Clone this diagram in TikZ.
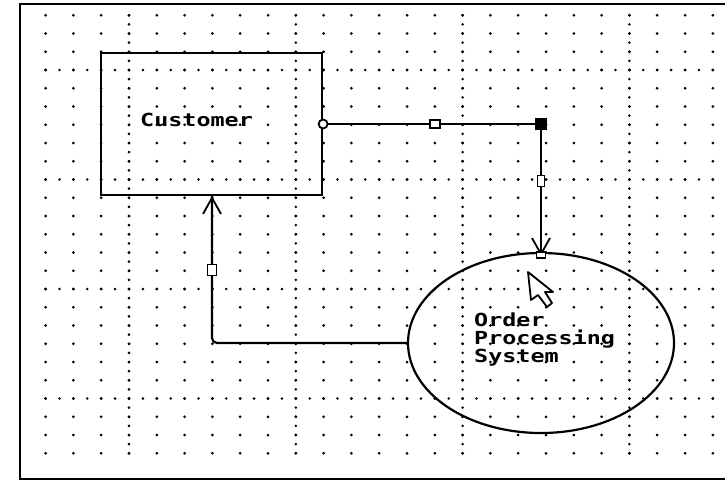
\documentclass[tikz,border=0pt]{standalone}
\usepackage{fontspec}
\newfontfamily\pixfont[FakeStretch=1.3]{DejaVu Sans Mono Bold}
\usetikzlibrary{shapes.geometric,arrows.meta}

\begin{document}
\begin{tikzpicture}[x=1pt,y=-1pt,
  pix/.style={font=\pixfont\fontsize{18}{18}\selectfont,inner sep=0pt},
  flow/.style={line width=2.2pt},
  flowmark/.style={draw,fill=white,line width=1.8pt,inner sep=0pt},
  barb/.style={-{Straight Barb[length=16pt,width=18pt,line width=1.8pt]}}]
\useasboundingbox (0,0) rectangle (725,480);
% Grid
\foreach \i in {1,...,25}
  \foreach \j in {0,...,24}
    \fill (17.8+27.8*\i,15.25+18.25*\j) circle (1.5);
\foreach \m in {0,...,3}
  \foreach \k in {0,...,48} {
    \fill (129+166.8*\m,15.25+9.125*\k) circle (1.4);
    \fill (45.6+13.9*\k,70+109.5*\m) circle (1.4);
  }
% Frame
\draw[line width=2.2pt] (725,4) -- (20,4) -- (20,479) -- (725,479);
% Customer
\node[draw,line width=2.2pt,minimum width=221pt,minimum height=142pt] (cust) at (211.5,124) {};
\node[pix,anchor=base west] (custlbl) at (140,126) {Customer};
% Order Processing System
\node[draw,ellipse,line width=2.2pt,minimum width=266pt,minimum height=180pt] (ops) at (541,343) {};
\node[pix,align=left,anchor=north west] (opslbl) at (474,313) {Order\\Processing\\System};
% Flow to the system
\coordinate (bend1) at (ops.north |- cust.east);
\draw[flow] (cust.east) -- (bend1);
\draw[flow,barb] (bend1) -- ([yshift=-4pt]ops.north);
\node[flowmark,circle,minimum size=9pt] (m0) at (cust.east) {};
\node[flowmark,minimum width=10pt,minimum height=8pt] (m1) at (435,124) {};
\node[fill,inner sep=0pt,minimum size=12pt] (m2) at (bend1) {};
\node[flowmark,minimum width=7pt,minimum height=11pt] (m3) at (541,181) {};
\node[flowmark,minimum width=9pt,minimum height=6pt] (m4) at ([yshift=-3pt]ops.north) {};
% Flow back to the customer
\coordinate (bend2) at (212,343);
\draw[flow,rounded corners=5pt] (ops.west) -- (bend2) -- (bend2 |- cust.south);
\draw[flow,barb] (212,240) -- (bend2 |- cust.south);
\node[flowmark,minimum width=9pt,minimum height=11pt] (m5) at (212,270) {};
% Pointer
\draw[line width=1.8pt,fill=white,line join=round] (528,272) -- (531,300) -- (538,295) -- (547,307)
  -- (552,303) -- (545,292) -- (553,292) -- cycle;
\end{tikzpicture}
\end{document}
